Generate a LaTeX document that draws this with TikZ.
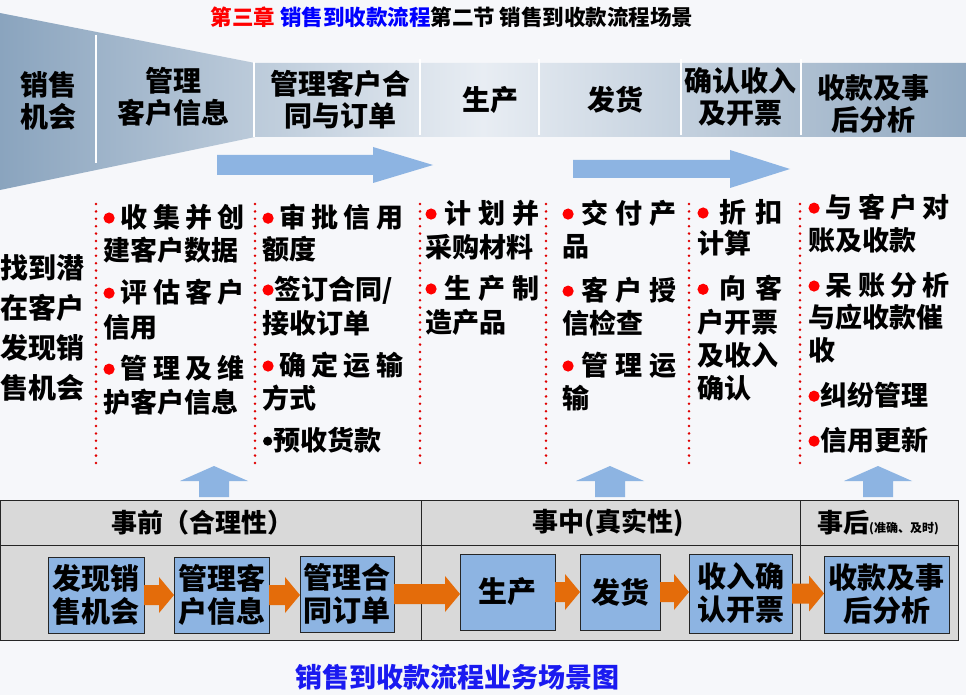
\documentclass[tikz,border=0pt]{standalone}
\usepackage{fontspec}
\setmainfont{Noto Sans CJK SC}
\usetikzlibrary{calc}
\definecolor{bandL}{HTML}{8AA4BE}
\definecolor{bandM}{HTML}{E8EDF3}
\definecolor{bandR}{HTML}{90A8C0}
\definecolor{lblue}{HTML}{8DB4E2}
\definecolor{oarr}{HTML}{E46C0A}
\definecolor{tgray}{HTML}{D9D9D9}
\definecolor{capblue}{HTML}{1A1AF0}
\definecolor{dotred}{HTML}{E00000}
\definecolor{bgc}{HTML}{F6F7FA}
\newcommand\rb{\makebox[0.45em][c]{\tikz[baseline={(0,-0.34em)}]\fill[red] (0,0) circle[radius=5.6pt];}}
\newcommand\kb{\makebox[0.42em][c]{\tikz[baseline={(0,-0.34em)}]\fill[black] (0,0) circle[radius=4.6pt];}}
\newcommand\SP[2]{\makebox[#1][s]{#2}}
\newcommand\oarrow[2]{%
  \fill[oarr] let \p1=(#1.east), \p2=(#2.west) in
   (\x1,\y1+10) -- (\x2-15,\y1+10) -- (\x2-15,\y1+18) -- (\x2,\y1) --
   (\x2-15,\y1-18) -- (\x2-15,\y1-10) -- (\x1,\y1-10) -- cycle;}
\begin{document}
\begin{tikzpicture}[x=1pt,y=-1pt,
  every node/.style={inner sep=0pt,outer sep=0pt},
  bantext/.style={font=\fontsize{28}{32}\selectfont\bfseries,align=center},
  coltext/.style={anchor=west,font=\fontsize{27}{27}\selectfont\bfseries},
  dotline/.style={dotred,line width=2.8pt,dash pattern=on 0pt off 7.4pt,line cap=round},
  divline/.style={white,line width=2.5pt},
  pbox/.style={draw=black!85,line width=0.8pt,fill=lblue,align=center,
     font=\fontsize{29}{33}\selectfont\bfseries},
  head/.style={font=\fontsize{26}{26}\selectfont\bfseries}
]
\fill[bgc] (0,0) rectangle (966,695);
\useasboundingbox (0,0) rectangle (966,695);

% title
\node[font=\fontsize{21.5}{21.5}\selectfont\bfseries] (title) at (452,17)
 {\textcolor{red}{第三章} \textcolor{blue}{销售到收款流程}第二节 销售到收款流程场景};

% banner
\shade[left color=bandL,right color=bandR,middle color=bandM]
 (0,13) -- (255,63) -- (966,63) -- (966,137) -- (255,137) -- (0,190) -- cycle;
\draw[divline] (96,35) -- (96,163);
\draw[divline] (254,62) -- (254,137);
\foreach \x in {420,539,681,801} \draw[divline] (\x,59) -- (\x,135);

\node[bantext] (b1) at (48,101) {销售\\机会};
\node[bantext] (b2) at (173,97) {管理\\客户信息};
\node[bantext] (b3) at (340,100) {管理客户合\\同与订单};
\node[bantext] (b4) at (490,100) {生产};
\node[bantext] (b5) at (615,100) {发货};
\node[bantext] (b6) at (740,97) {确认收入\\及开票};
\node[bantext] (b7) at (873,104) {收款及事\\后分析};

% blue arrows
\fill[lblue] (217,155) -- (373,155) -- (373,147) -- (433,165) -- (373,183) -- (373,175) -- (217,175) -- cycle;
\fill[lblue] (573,160) -- (730,160) -- (730,150) -- (790,169) -- (730,188) -- (730,178) -- (573,178) -- cycle;

% left text
\node[anchor=west,align=left,font=\fontsize{28}{40}\selectfont\bfseries] (lt) at (1,328)
 {找到潜\\在客户\\发现销\\售机会};

% dotted lines
\foreach \x in {96,255,420,546,689,800} \draw[dotline] (\x,204) -- (\x,467);

% column 1
\node[coltext] (c1a) at (103,217) {\SP{142pt}{\rb\hfill 收\hfill 集\hfill 并\hfill 创}};
\node[coltext] (c1b) at (103,250) {建客户数据};
\node[coltext] (c1c) at (103,292) {\SP{142pt}{\rb\hfill 评\hfill 估\hfill 客\hfill 户}};
\node[coltext] (c1d) at (103,327) {信用};
\node[coltext] (c1e) at (103,368) {\SP{142pt}{\rb\hfill 管\hfill 理\hfill 及\hfill 维}};
\node[coltext] (c1f) at (103,402) {护客户信息};
% column 2
\node[coltext] (c2a) at (262,217) {\SP{141pt}{\rb\hfill 审\hfill 批\hfill 信\hfill 用}};
\node[coltext] (c2b) at (262,249) {额度};
\node[coltext] (c2c) at (262,290) {\rb 签订合同/};
\node[coltext] (c2d) at (262,323) {接收订单};
\node[coltext] (c2e) at (262,365) {\SP{141pt}{\rb\hfill 确\hfill 定\hfill 运\hfill 输}};
\node[coltext] (c2f) at (262,398) {方式};
\node[coltext] (c2g) at (262,440) {\kb 预收货款};
% column 3
\node[coltext] (c3a) at (425,213) {\SP{115pt}{\rb\hfill 计\hfill 划\hfill 并}};
\node[coltext] (c3b) at (425,247) {采购材料};
\node[coltext] (c3c) at (425,288) {\SP{115pt}{\rb\hfill 生\hfill 产\hfill 制}};
\node[coltext] (c3d) at (425,322) {造产品};
% column 4
\node[coltext] (c4a) at (562,213) {\SP{115pt}{\rb\hfill 交\hfill 付\hfill 产}};
\node[coltext] (c4b) at (562,247) {品};
\node[coltext] (c4c) at (562,290) {\SP{115pt}{\rb\hfill 客\hfill 户\hfill 授}};
\node[coltext] (c4d) at (562,323) {信检查};
\node[coltext] (c4e) at (562,365) {\SP{115pt}{\rb\hfill 管\hfill 理\hfill 运}};
\node[coltext] (c4f) at (562,398) {输};
% column 5
\node[coltext] (c5a) at (697,212) {\SP{86pt}{\rb\hfill 折\hfill 扣}};
\node[coltext] (c5b) at (697,243) {计算};
\node[coltext] (c5c) at (697,288) {\SP{86pt}{\rb\hfill 向\hfill 客}};
\node[coltext] (c5d) at (697,322) {户开票};
\node[coltext] (c5e) at (697,355) {及收入};
\node[coltext] (c5f) at (697,388) {确认};
% column 6
\node[coltext] (c6a) at (808,207) {\SP{142pt}{\rb\hfill 与\hfill 客\hfill 户\hfill 对}};
\node[coltext] (c6b) at (808,240) {账及收款};
\node[coltext] (c6c) at (808,285) {\SP{142pt}{\rb\hfill 呆\hfill 账\hfill 分\hfill 析}};
\node[coltext] (c6d) at (808,317) {与应收款催};
\node[coltext] (c6e) at (808,350) {收};
\node[coltext] (c6f) at (808,395) {\rb 纠纷管理};
\node[coltext] (c6g) at (808,440) {\rb 信用更新};

% up arrows
\foreach \c in {214,610,878}
  \fill[lblue] (\c,466) -- (\c+34,481) -- (\c+15,481) -- (\c+15,497) -- (\c-15,497) -- (\c-15,481) -- (\c-34,481) -- cycle;

% table
\fill[tgray] (0,500) rectangle (958,640);
\draw[black!85,line width=0.8pt] (0,500) rectangle (958,640);
\draw[black!85,line width=0.8pt] (0,545) -- (958,545);
\draw[black!85,line width=0.8pt] (421,500) -- (421,640);
\draw[black!85,line width=0.8pt] (800,500) -- (800,640);

\node[head] (h1) at (202,523) {事前（合理性）};
\node[head] (h2) at (608,523) {事中(真实性)};
\node[head] (h3) at (878,523) {事后{\fontsize{12}{12}\selectfont(准确、及时)}};

\node[pbox,minimum width=96pt,minimum height=76pt] (p1) at (96,595) {发现销\\售机会};
\node[pbox,minimum width=95pt,minimum height=76pt] (p2) at (221.5,595) {管理客\\户信息};
\node[pbox,minimum width=94pt,minimum height=76pt] (p3) at (347,594) {管理合\\同订单};
\node[pbox,minimum width=95pt,minimum height=76pt] (p4) at (507.5,592) {生产};
\node[pbox,minimum width=80pt,minimum height=76pt] (p5) at (620,592) {发货};
\node[pbox,minimum width=103pt,minimum height=79pt] (p6) at (740.5,593.5) {收入确\\认开票};
\node[pbox,minimum width=125pt,minimum height=77pt] (p7) at (886.5,594.5) {收款及事\\后分析};

\oarrow{p1}{p2}
\oarrow{p2}{p3}
\oarrow{p3}{p4}
\oarrow{p4}{p5}
\oarrow{p5}{p6}
\oarrow{p6}{p7}

\node[font=\fontsize{27}{27}\selectfont\bfseries,text=capblue] (cap) at (457,677) {销售到收款流程业务场景图};
\end{tikzpicture}
\end{document}
